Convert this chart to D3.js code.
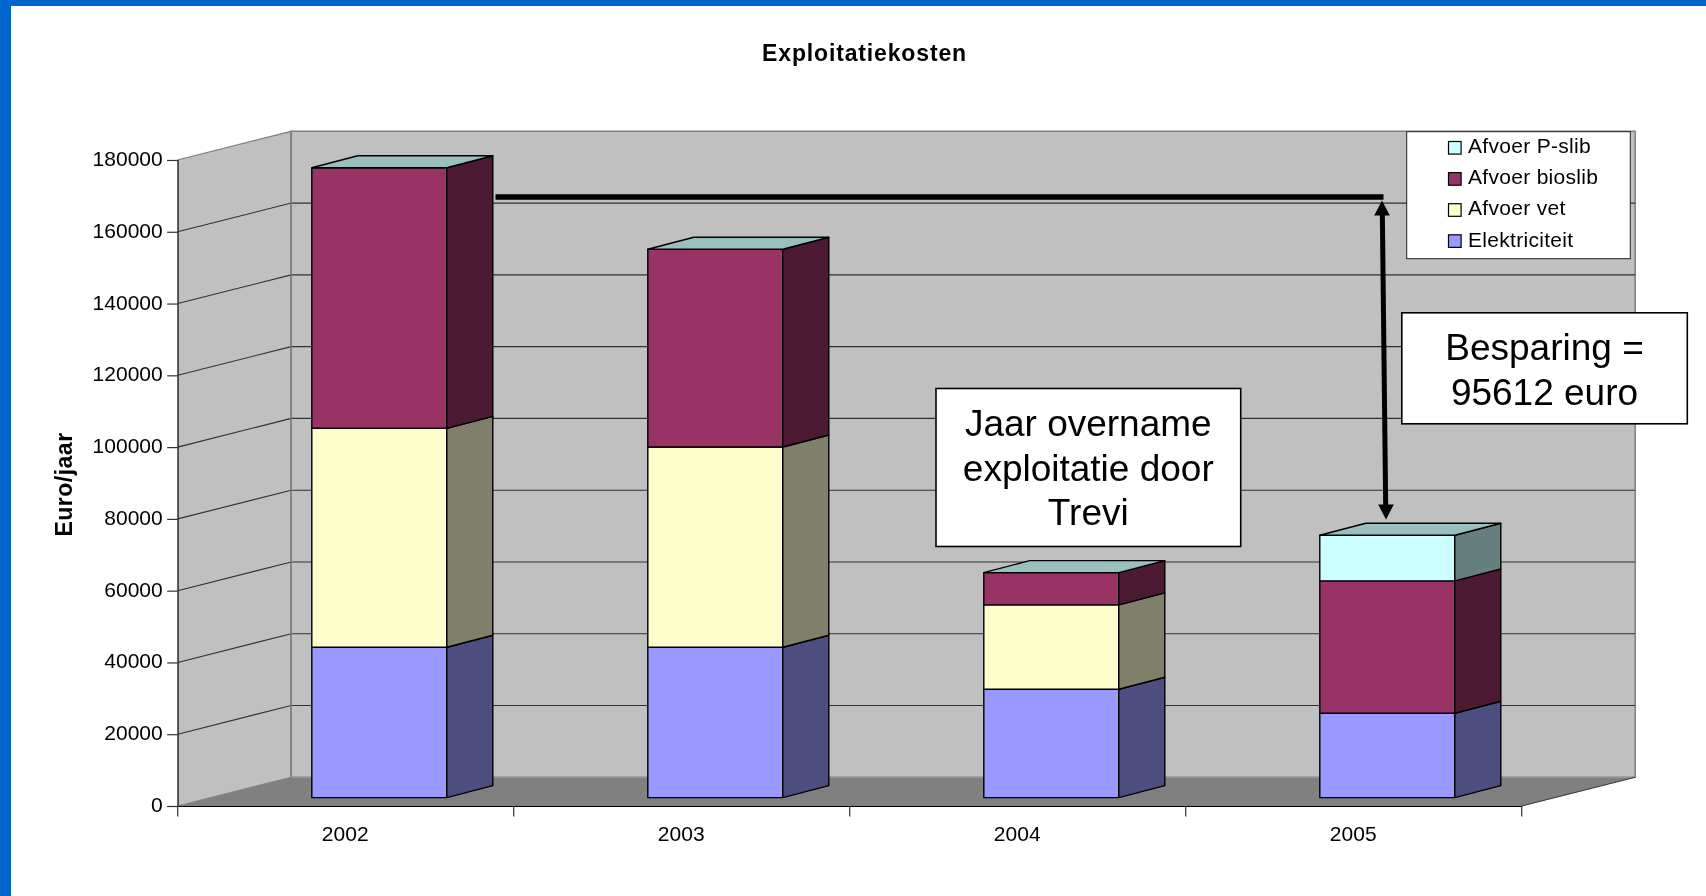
<!DOCTYPE html>
<html>
<head>
<meta charset="utf-8">
<script src="https://cdn.jsdelivr.net/npm/d3@7/dist/d3.min.js"></script>
<style>
html,body{margin:0;padding:0;background:#fff;overflow:hidden}
svg{display:block;filter:blur(0.35px)}
text{font-family:"Liberation Sans",Arial,sans-serif;fill:#000}
</style>
</head>
<body>
<svg id="chart" width="1706" height="896"></svg>
<script>
const years = ["2002","2003","2004","2005"];
const elektriciteit = [41900,41900,30200,23500];
const afvoerVet     = [61000,55800,23500,0];
const afvoerBioslib = [72600,55100,9000,36900];
const afvoerPslib   = [0,0,0,12700];
const seriesNames   = ["Elektriciteit","Afvoer vet","Afvoer bioslib","Afvoer P-slib"];
const seriesValues  = [elektriciteit,afvoerVet,afvoerBioslib,afvoerPslib];
const frontColors   = ["#9999ff","#ffffcc","#993366","#ccffff"];
const sideColors    = ["#4d4d80","#80806a","#4d1a33","#668080"];
const topColor      = "#99bfbf";
const yTicks        = [0,20000,40000,60000,80000,100000,120000,140000,160000,180000];
const titleText     = "Exploitatiekosten";
const yAxisTitle    = "Euro/jaar";
const noteOvername  = ["Jaar overname","exploitatie door","Trevi"];
const noteBesparing = ["Besparing =","95612 euro"];

const svg = d3.select("#chart");
const x0 = 177.7, x1 = 1521.7, depthX = 113.5, depthY = 28.7;
const y = d3.scaleLinear().domain([0,180000]).range([806,160]);
const xBand = d3.scaleBand().domain(years).range([x0,x1]);
const barW = 135, barDX = 46, barDY = 12, barLift = 8.4, barShift = 33.6;
const poly = p => p.map(q => q.join(",")).join(" ");

// borders
svg.append("rect").attr("width",1706).attr("height",6).attr("fill","#0066cc");
svg.append("rect").attr("width",11).attr("height",896).attr("fill","#0066cc");

// walls
svg.append("polygon").attr("points",poly([[x0,y(0)],[x0+depthX,y(0)-depthY],[x0+depthX,y(180000)-depthY],[x0,y(180000)]]))
  .attr("fill","#c0c0c0").attr("stroke","#808080").attr("stroke-width",1.2);
svg.append("polygon").attr("points",poly([[x0+depthX,y(0)-depthY],[x1+depthX,y(0)-depthY],[x1+depthX,y(180000)-depthY],[x0+depthX,y(180000)-depthY]]))
  .attr("fill","#c0c0c0").attr("stroke","#808080").attr("stroke-width",1.5);

// gridlines
const grid = svg.append("g").attr("fill","none").attr("stroke","#303030").attr("stroke-width",1.1);
yTicks.filter(t => t>0 && t<180000).forEach(t => {
  grid.append("polyline").attr("points",poly([[x0,y(t)],[x0+depthX,y(t)-depthY],[x1+depthX,y(t)-depthY]]));
});

// floor
svg.append("polygon").attr("points",poly([[x0,y(0)],[x0+depthX,y(0)-depthY],[x1+depthX,y(0)-depthY],[x1,y(0)]]))
  .attr("fill","#808080");
svg.append("line").attr("x1",x0+depthX).attr("x2",x1+depthX).attr("y1",y(0)-depthY).attr("y2",y(0)-depthY).attr("stroke","#999").attr("stroke-width",1);
svg.append("line").attr("x1",x1).attr("y1",y(0)).attr("x2",x1+depthX).attr("y2",y(0)-depthY).attr("stroke","#333").attr("stroke-width",1);
svg.append("line").attr("x1",x0+depthX).attr("x2",x0+depthX).attr("y1",y(0)-depthY).attr("y2",y(180000)-depthY).attr("stroke","#808080").attr("stroke-width",1.5);

// axes
const yAxis = d3.axisLeft(y).tickValues(yTicks).tickSize(10.5).tickPadding(4.5).tickFormat(d3.format("d"));
const gy = svg.append("g").attr("transform",`translate(${x0},0)`).call(yAxis);
gy.selectAll(".domain").attr("stroke","#333").attr("stroke-width",1.2);
gy.selectAll(".tick line").attr("stroke","#333").attr("stroke-width",1.2);
gy.selectAll("text").attr("font-size",21).attr("font-family","Liberation Sans").attr("dy",null).attr("y",5.5);

const xAxis = d3.axisBottom(xBand).tickSize(0).tickPadding(0);
const gx = svg.append("g").attr("transform",`translate(0,${y(0)})`).call(xAxis);
gx.select(".domain").attr("stroke","#000").attr("stroke-width",1.2);
gx.selectAll(".tick line").remove();
gx.selectAll("text").attr("font-size",21).attr("font-family","Liberation Sans").attr("dy",null).attr("y",35).attr("x",-0.5);
d3.range(years.length+1).forEach(i => {
  const tx = x0 + i*xBand.step();
  svg.append("line").attr("x1",tx).attr("x2",tx).attr("y1",y(0)).attr("y2",y(0)+10.5).attr("stroke","#333").attr("stroke-width",1.2);
});

// stacked 3D bars
const bars = svg.append("g").attr("stroke","#000").attr("stroke-width",1.4).attr("stroke-linejoin","round");
years.forEach((yr,i) => {
  const cx = xBand(yr)+xBand.bandwidth()/2+barShift;
  const L = cx-barW/2, R = cx+barW/2;
  let base = 0;
  seriesValues.forEach((vals,s) => {
    const v = vals[i];
    if (v<=0) return;
    const yb = y(base)-barLift, yt = y(base+v)-barLift;
    bars.append("rect").attr("x",L).attr("y",yt).attr("width",barW).attr("height",yb-yt).attr("fill",frontColors[s]);
    bars.append("polygon").attr("points",poly([[R,yb],[R+barDX,yb-barDY],[R+barDX,yt-barDY],[R,yt]])).attr("fill",sideColors[s]);
    base += v;
  });
  const top = y(base)-barLift;
  bars.append("polygon").attr("points",poly([[L,top],[L+barDX,top-barDY],[R+barDX,top-barDY],[R,top]])).attr("fill",topColor);
});

// titles
svg.append("text").attr("x",864.5).attr("y",60.5).attr("text-anchor","middle").attr("font-size",23).attr("font-weight","bold").attr("letter-spacing",0.85).text(titleText);
svg.append("text").attr("transform","translate(71.5,484.5) rotate(-90)").attr("text-anchor","middle").attr("font-size",23).attr("font-weight","bold").attr("letter-spacing",0.5).text(yAxisTitle);

// legend
svg.append("rect").attr("x",1406.7).attr("y",131.7).attr("width",223.6).attr("height",127).attr("fill","#fff").attr("stroke","#222").attr("stroke-width",1);
const legendOrder = d3.range(seriesNames.length).reverse();
const ly = d3.scalePoint().domain(legendOrder).range([147.7,241]);
legendOrder.forEach(s => {
  svg.append("rect").attr("x",1448.5).attr("y",ly(s)-6.2).attr("width",12.6).attr("height",12.6).attr("fill",frontColors[s]).attr("stroke","#000").attr("stroke-width",1.2);
  svg.append("text").attr("x",1468).attr("y",ly(s)+5.5).attr("font-size",21).attr("letter-spacing",0.3).text(seriesNames[s]);
});

// savings line and arrow
svg.append("line").attr("x1",495.5).attr("x2",1383.5).attr("y1",197).attr("y2",197).attr("stroke","#000").attr("stroke-width",5.5);
svg.append("line").attr("x1",1382.3).attr("y1",210).attr("x2",1385.7).attr("y2",506).attr("stroke","#000").attr("stroke-width",5);
svg.append("polygon").attr("points",poly([[1382,200.5],[1389.8,215.5],[1374.2,215.5]])).attr("fill","#000");
svg.append("polygon").attr("points",poly([[1386,519.5],[1393.8,504.5],[1378.2,504.5]])).attr("fill","#000");

// notes
function note(bx,by,bw,bh,cx,baselines,lines){
  svg.append("rect").attr("x",bx).attr("y",by).attr("width",bw).attr("height",bh).attr("fill","#fff").attr("stroke","#000").attr("stroke-width",1.6);
  lines.forEach((t,i)=>svg.append("text").attr("x",cx).attr("y",baselines[i]).attr("text-anchor","middle").attr("font-size",37).text(t));
}
note(936,388.5,304.7,158,1088.3,[435.5,481,525],noteOvername);
note(1401.8,312.8,285.5,111,1544.5,[360,405],noteBesparing);
</script>
</body>
</html>
